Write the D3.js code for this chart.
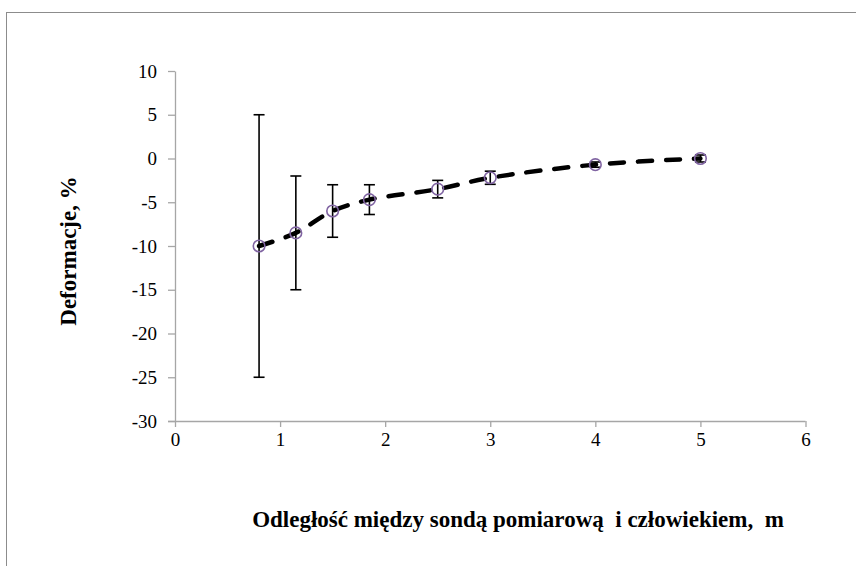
<!DOCTYPE html>
<html>
<head>
<meta charset="utf-8">
<script src="https://cdn.jsdelivr.net/npm/d3@7"></script>
</head>
<body style="margin:0; background:#fff">
<svg width="856" height="566" font-family="Liberation Serif"></svg>
<script>
// data
var distance = [0.8, 1.15, 1.5, 1.85, 2.5, 3, 4, 5];
var deform = [-10, -8.5, -6, -4.7, -3.5, -2.2, -0.7, 0];
var errPlus = [15, 6.5, 3, 1.7, 1, 0.75, 0.3, 0.4];
var errMinus = [15, 6.5, 3, 1.7, 1, 0.75, 0.3, 0.4];
var xTicks = [0, 1, 2, 3, 4, 5, 6];
var yTicks = [-30, -25, -20, -15, -10, -5, 0, 5, 10];

var svg = d3.select("svg");
var serif = "font-family:'Liberation Serif';";

// outer frame
svg.append("rect")
  .attr("x", 6.5).attr("y", 12.5)
  .attr("width", 900).attr("height", 600)
  .attr("fill", "none").attr("stroke", "#8c8c8c").attr("stroke-width", 1);

var x = d3.scaleLinear().domain([0, 6]).range([175, 805.5]);
var y = d3.scaleLinear().domain([-30, 10]).range([421, 71]);

var axisColor = "#a6a6a6";
var fmt = function (d) { return String(d); };

// x axis
var gx = svg.append("g")
  .attr("transform", "translate(0,421)")
  .call(d3.axisBottom(x).tickValues(xTicks).tickFormat(fmt)
    .tickSize(6).tickSizeOuter(0).tickPadding(6));
// y axis
var gy = svg.append("g")
  .attr("transform", "translate(175,0)")
  .call(d3.axisLeft(y).tickValues(yTicks).tickFormat(fmt)
    .tickSize(7).tickSizeOuter(0).tickPadding(11));

[gx, gy].forEach(function (g) {
  g.attr("font-family", "Liberation Serif").attr("font-size", 19);
  g.select(".domain").attr("stroke", axisColor).attr("stroke-width", 1.3);
  g.selectAll(".tick line").attr("stroke", axisColor).attr("stroke-width", 1.3);
  g.selectAll(".tick text")
    .attr("fill", "#000")
    .attr("style", serif + "font-size:19px");
});
// extend x axis line to the left end of y ticks
gx.select(".domain").attr("d", "M168,0.5H805.5");

var pts = distance.map(function (d, i) {
  return { x: d, y: deform[i], hi: deform[i] + errPlus[i], lo: deform[i] - errMinus[i] };
});

// dashed smoothed line
var line = d3.line()
  .x(function (d) { return x(d.x); })
  .y(function (d) { return y(d.y); })
  .curve(d3.curveCatmullRom.alpha(0.5));

svg.append("path")
  .datum(pts)
  .attr("d", line)
  .attr("fill", "none")
  .attr("stroke", "#000")
  .attr("stroke-width", 4.5)
  .attr("stroke-linecap", "round")
  .attr("stroke-dasharray", "14,14");

// error bars
var eb = svg.append("g").attr("stroke", "#000").attr("stroke-width", 1.6);
eb.selectAll("line.v").data(pts).enter().append("line")
  .attr("x1", function (d) { return x(d.x); })
  .attr("x2", function (d) { return x(d.x); })
  .attr("y1", function (d) { return y(d.hi); })
  .attr("y2", function (d) { return y(d.lo); });
eb.selectAll("line.top").data(pts).enter().append("line")
  .attr("x1", function (d) { return x(d.x) - 5.5; })
  .attr("x2", function (d) { return x(d.x) + 5.5; })
  .attr("y1", function (d) { return y(d.hi); })
  .attr("y2", function (d) { return y(d.hi); });
eb.selectAll("line.bot").data(pts).enter().append("line")
  .attr("x1", function (d) { return x(d.x) - 5.5; })
  .attr("x2", function (d) { return x(d.x) + 5.5; })
  .attr("y1", function (d) { return y(d.lo); })
  .attr("y2", function (d) { return y(d.lo); });

// markers
svg.append("g").selectAll("circle").data(pts).enter().append("circle")
  .attr("cx", function (d) { return x(d.x); })
  .attr("cy", function (d) { return y(d.y); })
  .attr("r", 5.8)
  .attr("fill", "none")
  .attr("stroke", "#8064a2")
  .attr("stroke-width", 1.6);

// axis titles
svg.append("text")
  .attr("transform", "translate(76,251) rotate(-90)")
  .attr("text-anchor", "middle")
  .attr("style", serif + "font-size:23px;font-weight:bold")
  .text("Deformacje, %");

svg.append("text")
  .attr("x", 518).attr("y", 527)
  .attr("text-anchor", "middle")
  .attr("style", serif + "font-size:23px;font-weight:bold;white-space:pre")
  .text("Odległość między sondą pomiarową  i człowiekiem,  m");
</script>
</body>
</html>
